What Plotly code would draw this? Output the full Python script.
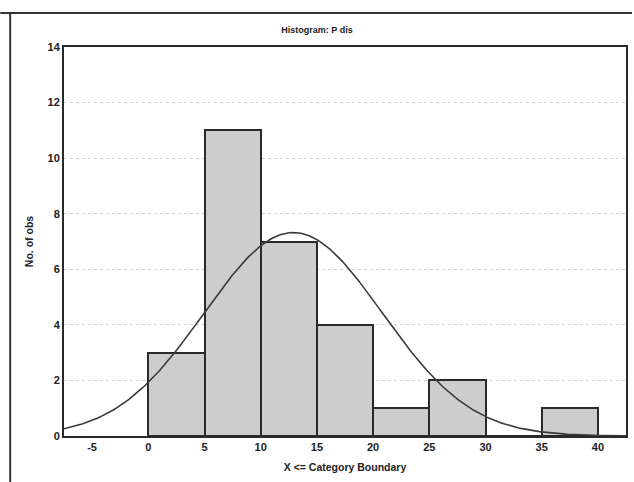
import numpy as np
import plotly.graph_objects as go

# Histogram counts per category (upper boundary of each bin)
bin_edges = [0, 5, 10, 15, 20, 25, 30, 35, 40]
counts = [3, 11, 7, 4, 1, 2, 0, 1]

# Fitted normal curve parameters (expected counts per 5-unit bin)
fit_mean = 12.9
fit_sd = 7.9
n_obs = sum(counts)
bin_width = 5

x_ticks = [-5, 0, 5, 10, 15, 20, 25, 30, 35, 40]
y_ticks = [0, 2, 4, 6, 8, 10, 12, 14]

centers = [(a + b) / 2 for a, b in zip(bin_edges[:-1], bin_edges[1:])]

xs = np.linspace(-7.5, 42.5, 300)
ys = n_obs * bin_width / (fit_sd * np.sqrt(2 * np.pi)) * np.exp(-((xs - fit_mean) ** 2) / (2 * fit_sd ** 2))

fig = go.Figure()
fig.add_trace(go.Bar(
    x=centers, y=counts, width=bin_width,
    marker=dict(color="#cdcdcd", line=dict(color="#2a2a2a", width=2)),
    showlegend=False,
))
fig.add_trace(go.Scatter(
    x=xs, y=ys, mode="lines",
    line=dict(color="#3a3a3a", width=1.6),
    showlegend=False,
))

family = "Liberation Sans, Arial, sans-serif"
font = dict(family=family, size=11, color="#222222", weight="bold")

fig.update_layout(
    width=634, height=482,
    margin=dict(l=64, r=6, t=47, b=46),
    paper_bgcolor="white", plot_bgcolor="white",
    font=font,
    bargap=0,
    title=dict(text="Histogram: P dis", x=0.5, xanchor="center", y=1 - 30 / 482, yanchor="middle",
               font=dict(family=family, size=9, color="#222222", weight="bold")),
    xaxis=dict(
        range=[-7.5, 42.5], tickvals=x_ticks, ticktext=[str(v) for v in x_ticks],
        tickfont=dict(family=family, size=11, color="#222222", weight="bold"),
        showgrid=False, zeroline=False, showline=True, mirror=True,
        linecolor="#2a2a2a", linewidth=2, ticks="",
        title=dict(text="X <= Category Boundary", standoff=11,
                   font=dict(family=family, size=10.5, color="#222222", weight="bold")),
    ),
    yaxis=dict(
        range=[0, 14], tickvals=y_ticks,
        tickfont=dict(family=family, size=11, color="#222222", weight="bold"),
        showgrid=True, gridcolor="#d2d2d2", griddash="dot", gridwidth=1,
        zeroline=False, showline=True, mirror=True,
        linecolor="#2a2a2a", linewidth=2, ticks="",
        title=dict(text="No. of obs", standoff=12,
                   font=dict(family=family, size=10.5, color="#222222", weight="bold")),
    ),
)

# Outer frame edges (top and left)
fig.add_shape(type="line", xref="paper", yref="paper",
              x0=-64 / 564, x1=1 + 6 / 564, y0=1 + 34 / 389, y1=1 + 34 / 389,
              line=dict(color="#333333", width=2))
fig.add_shape(type="line", xref="paper", yref="paper",
              x0=-54 / 564, x1=-54 / 564, y0=-46 / 389, y1=1 + 34 / 389,
              line=dict(color="#333333", width=2))

fig.write_html("out.html")
